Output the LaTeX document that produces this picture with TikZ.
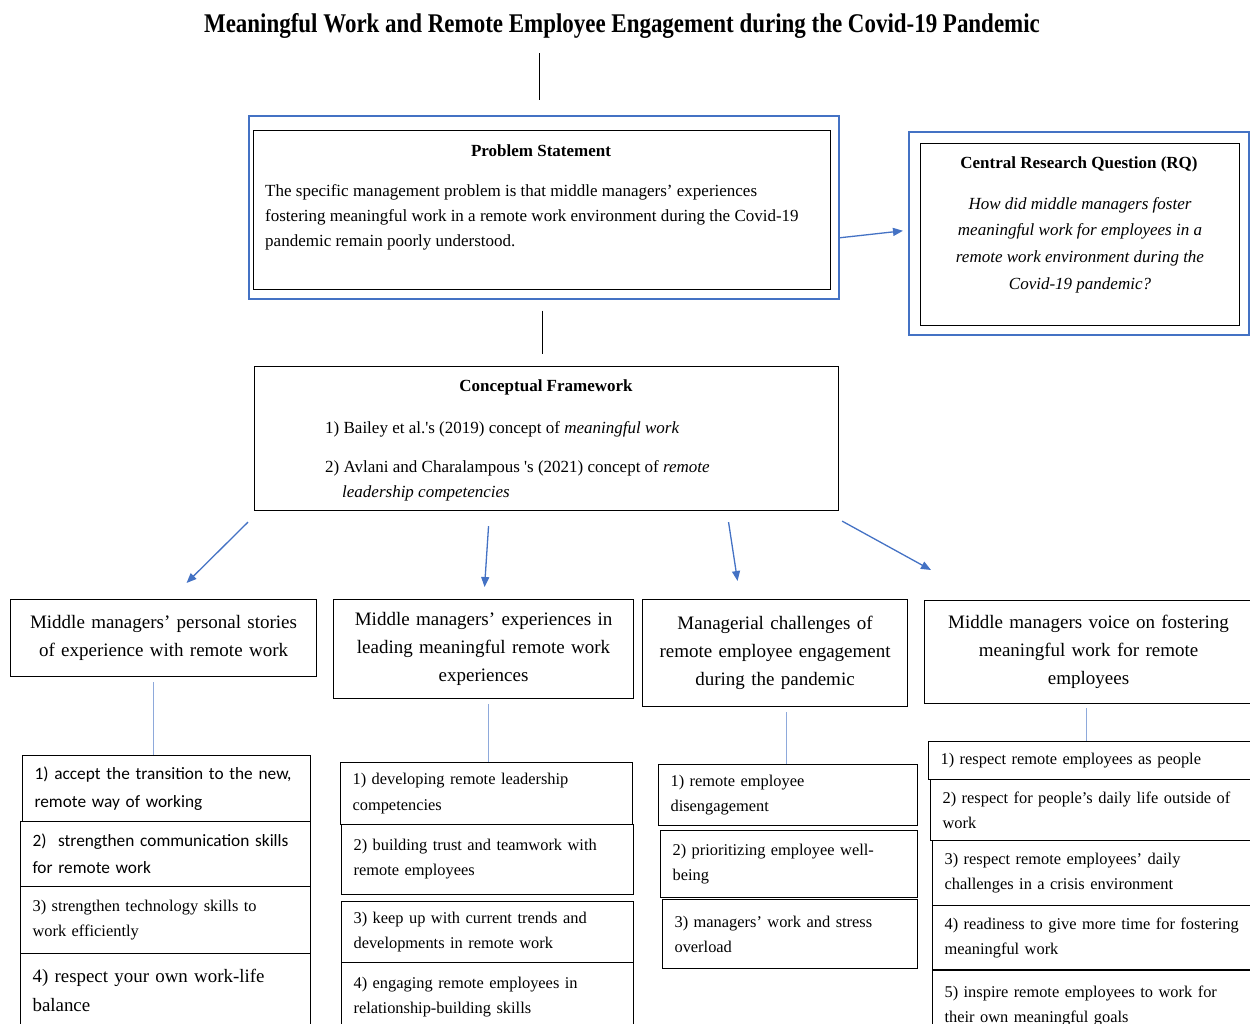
\documentclass[tikz,border=0pt]{standalone}
\usepackage{fontspec}
\setmainfont{Liberation Serif}
\newfontfamily\titrefont{Liberation Serif}[FakeStretch=0.85]
\newfontfamily\calib{Carlito}
\usetikzlibrary{arrows.meta}
\definecolor{bleucadre}{RGB}{68,114,196}
\definecolor{bleulien}{RGB}{142,169,219}

\begin{document}
\begin{tikzpicture}[x=1pt,y=-1pt]
\tikzset{cadre/.style={draw, line width=1.1pt, inner sep=0pt, anchor=north west},
  bleu/.style={draw=bleucadre, line width=1.6pt, inner sep=0pt, anchor=north west},
  texte/.style={inner sep=0pt, font=\fontsize{17}{25}\selectfont},
  gras/.style={inner sep=0pt, font=\bfseries\fontsize{17}{25}\selectfont},
  theme/.style={draw, line width=1.1pt, anchor=north west, align=center, inner xsep=5pt, inner ysep=0pt, font=\fontsize{19}{28}\selectfont},
  item/.style={draw, line width=1.1pt, anchor=north west, align=left, inner xsep=12pt, inner ysep=0pt, font=\fontsize{16.4}{25}\selectfont},
  fleche/.style={draw=bleucadre, line width=1.3pt, -{Triangle[length=10pt,width=8pt]}},
  lien/.style={draw=bleulien, line width=0.9pt},
  trait/.style={draw, line width=0.9pt}}
\useasboundingbox (0,0) rectangle (1250,1024);
\clip (0,0) rectangle (1250,1024);
\node[font=\titrefont\bfseries\fontsize{27}{30}\selectfont] (titre) at (622,26) {Meaningful Work and Remote Employee Engagement during the Covid-19 Pandemic};
% problem statement
\node[bleu, minimum width=590, minimum height=183] (psout) at (248,115) {};
\node[cadre, minimum width=577, minimum height=159] (ps) at (253,130) {};
\node[gras] (pstitre) at (541,151) {Problem Statement};
\node[texte, anchor=north west, align=left] (pstexte) at (265,184) {The specific management problem is that middle managers' experiences\\fostering meaningful work in a remote work environment during the Covid-19\\pandemic remain poorly understood.};
% research question
\node[bleu, minimum width=340, minimum height=203] (rqout) at (908,131) {};
\node[cadre, minimum width=319, minimum height=182] (rq) at (920,143) {};
\node[gras] (rqtitre) at (1079,164) {Central Research Question (RQ)};
\node[texte, anchor=north, align=center, font=\itshape\fontsize{17}{26.7}\selectfont] (rqtexte) at (1080,197) {How did middle managers foster\\meaningful work for employees in a\\remote work environment during the\\Covid-19 pandemic?};
% conceptual framework
\node[cadre, minimum width=584, minimum height=144] (cf) at (254,366) {};
\node[gras] (cftitre) at (546,387) {Conceptual Framework};
\node[texte, anchor=north west] (cf1) at (325,421) {1) Bailey et al.\textquotesingle s (2019) concept of \textit{meaningful work}};
\node[texte, anchor=north west, align=left] (cf2) at (325,460) {2) Avlani and Charalampous \textquotesingle s (2021) concept of \textit{remote}\\\hspace*{17pt}\textit{leadership competencies}};
% themes
\node[theme, text width=296, minimum height=77] (a) at (10,599) {Middle managers' personal stories\\of experience with remote work};
\node[theme, text width=290, minimum height=99] (b) at (333,599) {Middle managers' experiences in\\leading meaningful remote work\\experiences};
\node[theme, text width=255, minimum height=107] (c) at (642,599) {Managerial challenges of\\remote employee engagement\\during the pandemic};
\node[theme, text width=318, minimum height=103] (d) at (924,600) {Middle managers voice on fostering\\meaningful work for remote\\employees};
% column 1
\node[item, text width=264, minimum height=66, font=\calib\fontsize{17.3}{28}\selectfont] (a1) at (22,755) {1) accept the transition to the new,\\remote way of working};
\node[item, text width=266, minimum height=65, font=\calib\fontsize{17.3}{27}\selectfont] (a2) at (20,821) {2)\ \ strengthen communication skills\\for remote work};
\node[item, text width=266, minimum height=67] (a3) at (20,886) {3) strengthen technology skills to\\work efficiently};
\node[item, text width=266, minimum height=74, font=\fontsize{18.9}{29}\selectfont] (a4) at (20,953) {4) respect your own work-life\\balance};
% column 2
\node[item, text width=268, minimum height=62] (b1) at (340,762) {1) developing remote leadership\\competencies};
\node[item, text width=268, minimum height=70] (b2) at (341,824) {2) building trust and teamwork with\\remote employees};
\node[item, text width=268, minimum height=61] (b3) at (341,901) {3) keep up with current trends and\\developments in remote work};
\node[item, text width=268, minimum height=70] (b4) at (341,962) {4) engaging remote employees in\\relationship-building skills};
% column 3
\node[item, text width=235, minimum height=61] (c1) at (658,764) {1) remote employee\\disengagement};
\node[item, text width=233, minimum height=67] (c2) at (660,830) {2) prioritizing employee well-\\being};
\node[item, text width=231, minimum height=69] (c3) at (662,899) {3) managers' work and stress\\overload};
% column 4
\node[item, text width=310, minimum height=38] (d1) at (928,741) {1) respect remote employees as people};
\node[item, text width=308, minimum height=61] (d2) at (930,779) {2) respect for people's daily life outside of\\work};
\node[item, text width=306, minimum height=65] (d3) at (932,840) {3) respect remote employees' daily\\challenges in a crisis environment};
\node[item, text width=306, minimum height=64] (d4) at (932,905) {4) readiness to give more time for fostering\\meaningful work};
\node[item, text width=306, minimum height=70] (d5) at (932,970) {5) inspire remote employees to work for\\their own meaningful goals};
% connectors
\draw[trait, shorten <=11pt, shorten >=15pt] ([xshift=-3pt]titre.south -| ps.north) -- ([xshift=-3pt]psout.north -| ps.north);
\draw[trait, shorten <=11pt, shorten >=12pt] (ps.south |- psout.south) -- (ps.south |- cf.north);
\draw[fleche] ([yshift=-30.5pt]psout.east) -- ([xshift=-5pt,yshift=2.5pt]rqout.west);
\draw[fleche] ([xshift=-6pt,yshift=-11pt]cf.south west) -- ([xshift=23pt,yshift=16pt]a.north);
\draw[fleche] ([xshift=-58pt,yshift=-15pt]cf.south) -- ([xshift=1pt,yshift=12pt]b.north);
\draw[fleche] ([xshift=182pt,yshift=-11pt]cf.south) -- ([xshift=-37.5pt,yshift=18pt]c.north);
\draw[fleche] ([xshift=3pt,yshift=-10pt]cf.south east) -- ([xshift=7pt,yshift=30pt]d.north west);
\draw[lien] ([xshift=-10pt,yshift=-5pt]a.south) -- ([xshift=-10pt]a.south |- a1.north);
\draw[lien] ([xshift=5pt,yshift=-5pt]b.south) -- ([xshift=5pt]b.south |- b1.north);
\draw[lien] ([xshift=11.5pt,yshift=-5pt]c.south) -- ([xshift=11.5pt]c.south |- c1.north);
\draw[lien] ([xshift=-2pt,yshift=-4pt]d.south) -- ([xshift=-2pt]d.south |- d1.north);
\end{tikzpicture}
\end{document}
